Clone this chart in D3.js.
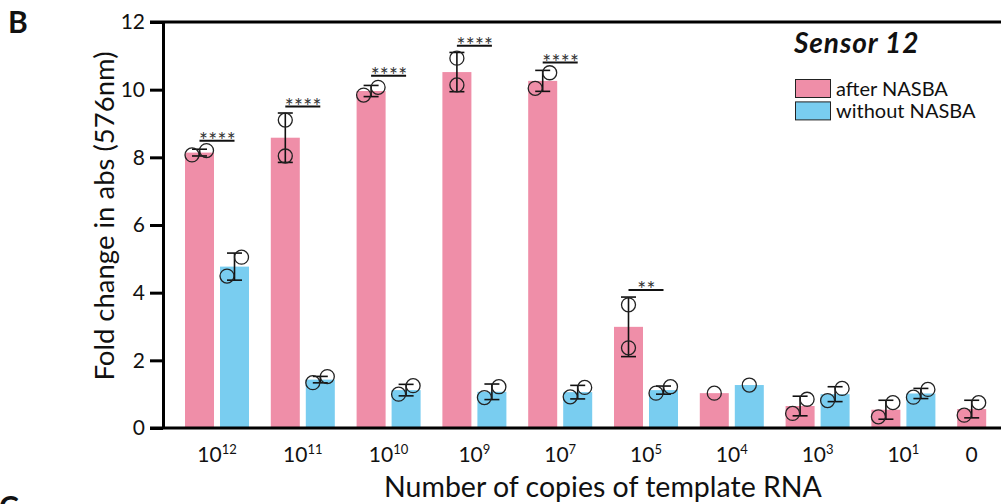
<!DOCTYPE html>
<html><head><meta charset="utf-8">
<script src="https://cdn.jsdelivr.net/npm/d3@7"></script>
<style>
html,body{margin:0;padding:0;background:#fff;}
svg{display:block;font-family:Lato,"Open Sans",sans-serif;}
</style></head><body>
<svg id="chart" width="1001" height="504"></svg>
<script>
// Template RNA copy numbers (x categories): base and superscript exponent
const tickBase = ["10","10","10","10","10","10","10","10","10","0"];
const tickExp  = ["12","11","10","9","7","5","4","3","1",""];

const seriesNames = ["after NASBA", "without NASBA"];

// Mean fold change per category
const afterMean   = [8.14, 8.58, 9.96, 10.52, 10.26, 2.99, 1.03, 0.65, 0.54, 0.56];
const withoutMean = [4.77, 1.43, 1.12, 1.07, 1.06, 1.12, 1.27, 1.00, 1.02, null];

// Standard deviation per category
const afterSD   = [0.10, 0.73, 0.165, 0.58, 0.31, 0.88, 0, 0.29, 0.28, 0.26];
const withoutSD = [0.40, 0.095, 0.17, 0.23, 0.20, 0.12, 0, 0.22, 0.15, null];

// Individual replicate measurements
const afterPoints = [[8.07, 8.20], [9.10, 8.04], [9.84, 10.07], [10.93, 10.14], [10.04, 10.50],
                     [3.64, 2.37], [1.03], [0.43, 0.85], [0.33, 0.75], [0.38, 0.75]];
const withoutPoints = [[4.49, 5.05], [1.34, 1.52], [1.00, 1.25], [0.90, 1.22], [0.92, 1.20],
                       [1.03, 1.22], [1.27], [0.81, 1.17], [0.91, 1.14], []];

// Significance brackets: category index, label, height (in y units)
const sigIndex  = [0, 1, 2, 3, 4, 5];
const sigLabel  = ["****", "****", "****", "****", "****", "**"];
const sigLevel  = [8.49, 9.50, 10.41, 11.30, 10.80, 4.08];

const yTicks = [0, 2, 4, 6, 8, 10, 12];

const colors = ["#EF8EA8", "#79CDF0"];

const svg = d3.select("#chart");

const y = d3.scaleLinear().domain([0, 12]).range([428, 22]);
const x0 = d3.scaleBand().domain(d3.range(tickBase.length))
  .range([185, 1021.2]).paddingInner(0.254).paddingOuter(0);
const x1 = d3.scaleBand().domain([0, 1]).range([0, x0.bandwidth()]).paddingInner(0.1714);

const series = [
  {mean: afterMean, sd: afterSD, pts: afterPoints},
  {mean: withoutMean, sd: withoutSD, pts: withoutPoints}
];

// Flatten into bar records
const bars = [];
series.forEach((s, k) => {
  s.mean.forEach((m, i) => {
    if (m == null) return;
    bars.push({i, k, mean: m, sd: s.sd[i], pts: s.pts[i]});
  });
});
const barCx = d => x0(d.i) + x1(d.k) + x1.bandwidth() / 2;

// Bars
svg.append("g").selectAll("rect").data(bars).join("rect")
  .attr("x", d => x0(d.i) + x1(d.k))
  .attr("width", x1.bandwidth())
  .attr("y", d => y(d.mean))
  .attr("height", d => y(0) - y(d.mean))
  .attr("fill", d => colors[d.k]);

// Error bars (mean ± SD)
const eb = svg.append("g").attr("stroke", "#111").attr("stroke-width", 1.6).attr("fill", "none");
bars.filter(d => d.sd > 0).forEach(d => {
  const cx = barCx(d), top = y(d.mean + d.sd), bot = y(d.mean - d.sd);
  eb.append("line").attr("x1", cx).attr("x2", cx).attr("y1", top).attr("y2", bot);
  eb.append("line").attr("x1", cx - 7.5).attr("x2", cx + 7.5).attr("y1", top).attr("y2", top);
  eb.append("line").attr("x1", cx - 7.5).attr("x2", cx + 7.5).attr("y1", bot).attr("y2", bot);
});

// Replicate points; overlapping pairs are spread sideways (lower value to the left)
const R = 7;
const dots = [];
bars.forEach(d => {
  const cx = barCx(d);
  const p = d.pts;
  if (p.length === 2 && Math.abs(y(p[0]) - y(p[1])) < 22) {
    const lo = Math.min(p[0], p[1]), hi = Math.max(p[0], p[1]);
    dots.push({cx: cx - 7.5, v: lo}, {cx: cx + 7, v: hi});
  } else {
    p.forEach(v => dots.push({cx, v}));
  }
});
svg.append("g").selectAll("circle").data(dots).join("circle")
  .attr("cx", d => d.cx).attr("cy", d => y(d.v)).attr("r", R)
  .attr("fill", "none").attr("stroke", "#222").attr("stroke-width", 1.3);

// Significance brackets
const sg = svg.append("g");
sigIndex.forEach((i, n) => {
  const xa = x0(i) + x1(0) + x1.bandwidth() / 2;
  const xb = x0(i) + x1(1) + x1.bandwidth() / 2;
  const ly = y(sigLevel[n]);
  sg.append("line").attr("x1", xa).attr("x2", xb).attr("y1", ly).attr("y2", ly)
    .attr("stroke", "#111").attr("stroke-width", 2);
  sg.append("text").attr("x", (xa + xb) / 2 + 0.5).attr("y", ly + 7.5)
    .attr("text-anchor", "middle").attr("font-size", 21).attr("letter-spacing", 0.3)
    .attr("fill", "#333").text(sigLabel[n]);
});

// Y axis
const yAxis = svg.append("g").attr("transform", "translate(163,0)")
  .call(d3.axisLeft(y).tickValues(yTicks).tickSize(13).tickSizeOuter(0).tickPadding(5));
yAxis.select(".domain").attr("stroke", "#000").attr("stroke-width", 3);
yAxis.selectAll(".tick line").attr("stroke", "#000").attr("stroke-width", 3);
yAxis.selectAll(".tick text").attr("font-size", 21).attr("font-family", "Lato,'Open Sans',sans-serif").attr("fill", "#111");

// Top frame line and x axis baseline
svg.append("line").attr("x1", 150).attr("x2", 1001).attr("y1", y(12)).attr("y2", y(12))
  .attr("stroke", "#000").attr("stroke-width", 3);
svg.append("line").attr("x1", 150).attr("x2", 1001).attr("y1", y(0)).attr("y2", y(0))
  .attr("stroke", "#000").attr("stroke-width", 3);

// X tick labels with superscript exponents
const labelX = i => withoutMean[i] == null
  ? x0(i) + x1(0) + x1.bandwidth() / 2
  : x0(i) + x0.bandwidth() / 2;
const xl = svg.append("g").selectAll("text").data(d3.range(tickBase.length)).join("text")
  .attr("x", labelX).attr("y", 462).attr("text-anchor", "middle")
  .attr("font-size", 21).attr("fill", "#111");
xl.append("tspan").text(i => tickBase[i]);
xl.filter(i => tickExp[i] !== "").append("tspan")
  .attr("font-size", 13).attr("dy", -8).text(i => tickExp[i]);

// Axis titles
svg.append("text").attr("x", 603).attr("y", 497).attr("text-anchor", "middle")
  .attr("font-size", 28.5).attr("fill", "#111").text("Number of copies of template RNA");
svg.append("text").attr("transform", "translate(114,216) rotate(-90)")
  .attr("text-anchor", "middle").attr("font-size", 27.5).attr("fill", "#111")
  .text("Fold change in abs (576nm)");

// Legend
const lg = svg.append("g");
lg.append("text").attr("x", 794).attr("y", 53).attr("font-size", 28).attr("letter-spacing", 0.9)
  .attr("font-weight", "bold").attr("font-style", "italic").attr("fill", "#111").text("Sensor 12");
seriesNames.forEach((name, k) => {
  const ty = 79.5 + k * 22.4;
  lg.append("rect").attr("x", 795.5).attr("y", ty).attr("width", 35).attr("height", 18)
    .attr("fill", colors[k]).attr("stroke", "#222").attr("stroke-width", 1);
  lg.append("text").attr("x", 836).attr("y", ty + 16.5).attr("font-size", 20)
    .attr("fill", "#111").text(name);
});

// Panel letters
svg.append("text").attr("x", 8).attr("y", 33).attr("font-size", 30)
  .attr("font-weight", "bold").attr("fill", "#111").text("B");
svg.append("text").attr("x", -1).attr("y", 518).attr("font-size", 30)
  .attr("font-weight", "bold").attr("fill", "#111").text("C");
</script>
</body></html>
